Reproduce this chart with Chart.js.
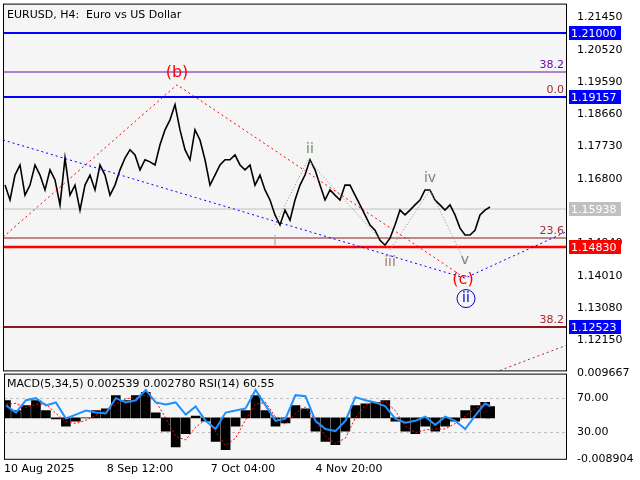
<!DOCTYPE html>
<html>
<head>
<meta charset="utf-8">
<script src="https://cdn.jsdelivr.net/npm/chart.js@4"></script>
<style>
  body { margin: 0; background: #fff; overflow: hidden; }
  #main { position: absolute; left: 0; top: -6px; }
  #sub { position: absolute; left: 0; top: 364px; }
</style>
</head>
<body>
<canvas id="main" width="640" height="386"></canvas>
<canvas id="sub" width="640" height="116"></canvas>
<script>
// time axis (bar position) and its labels
const timeTicks = [0, 103, 207, 312];
const timeLabels = ["10 Aug 2025", "8 Sep 12:00", "7 Oct 04:00", "4 Nov 20:00"];

// EURUSD H4 closes, one every 5 positions
const closes = [
  1.1662,1.1619,1.1691,1.1720,1.1633,1.1662,1.1720,1.1691,1.1648,1.1706,1.1677,1.1605,1.1740,1.1633,1.1662,1.1590,1.1662,1.1691,1.1648,1.1720,
  1.1691,1.1633,1.1662,1.1706,1.1740,1.1764,1.1749,1.1706,1.1735,1.1729,1.1720,1.1778,1.1821,1.1850,1.1894,1.1821,1.1764,1.1735,1.1821,1.1792,
  1.1735,1.1662,1.1691,1.1720,1.1735,1.1735,1.1749,1.1720,1.1706,1.1720,1.1662,1.1691,1.1648,1.1619,1.1576,1.1547,1.1590,1.1561,1.1619,1.1662,
  1.1691,1.1735,1.1706,1.1662,1.1619,1.1648,1.1633,1.1619,1.1662,1.1662,1.1633,1.1605,1.1576,1.1547,1.1532,1.1503,1.1489,1.1509,1.1547,1.1590,
  1.1576,1.1590,1.1605,1.1619,1.1648,1.1648,1.1619,1.1605,1.1590,1.1605,1.1576,1.1538,1.1518,1.1518,1.1532,1.1576,1.1590,1.1599
];
const priceTicks = [1.21450, 1.20520, 1.19590, 1.18660, 1.17730, 1.16800, 1.14940, 1.14010, 1.13080, 1.12150];

// horizontal levels
const levels = [
  { v: 1.21000, c: "#0000ff", w: 2, box: true, boxColor: "#0000ff" },
  { v: 1.19890, c: "#6a0dad", w: 1, txt: "38.2", txtColor: "#6a0dad" },
  { v: 1.19157, c: "#0000ff", w: 2, box: true, boxColor: "#0000ff", txt: "0.0", txtColor: "#a52a2a" },
  { v: 1.15938, c: "#c0c0c0", w: 1, box: true, boxColor: "#c0c0c0" },
  { v: 1.15100, c: "#8b1a1a", w: 1, txt: "23.6", txtColor: "#a52a2a" },
  { v: 1.14830, c: "#ff0000", w: 2.5, box: true, boxColor: "#ff0000" },
  { v: 1.12523, c: "#8b1a1a", w: 2, box: true, boxColor: "#0000ff", txt: "38.2", txtColor: "#a52a2a" }
];

// wave lines
const blueLineX = [0, 462, 563];
const blueLineY = [1.1792, 1.1394, 1.1527];
const redLineX = [0, 174, 462];
const redLineY = [1.1512, 1.1951, 1.1394];
const redLowX = [497, 563];
const redLowY = [1.1128, 1.1200];
const greyLineX = [272, 305, 387, 427, 462];
const greyLineY = [1.1547, 1.1735, 1.1475, 1.1648, 1.1440];

// wave labels
const waveLabels = [
  { t: "(b)", x: 174, y: 1.1985, c: "#ff0000", s: 16 },
  { t: "ii", x: 307, y: 1.1765, c: "#6b8e6b", s: 14 },
  { t: "iv", x: 427, y: 1.1680, c: "#808080", s: 14 },
  { t: "i", x: 272, y: 1.1500, c: "#8fbc8f", s: 13 },
  { t: "iii", x: 387, y: 1.1440, c: "#a08070", s: 14 },
  { t: "v", x: 462, y: 1.1445, c: "#808080", s: 14 },
  { t: "(c)", x: 460, y: 1.1390, c: "#ff0000", s: 16 },
  { t: "ii", x: 463, y: 1.1335, c: "#0000cc", s: 14, circle: true }
];

// indicator panel
const indX = [2,12,22,32,42,52,62,72,82,92,102,112,122,132,142,152,162,172,182,192,202,212,222,232,242,252,262,272,282,292,302,312,322,332,342,352,362,372,382,392,402,412,422,432,442,452,462,472,482,487];
const macdHist = [0.0038,0.0016,0.0027,0.0038,0.0016,-0.0002,-0.0018,-0.0007,0.0000,0.0016,0.0020,0.0049,0.0038,0.0049,0.0056,0.0011,-0.0029,-0.0063,-0.0034,0.0004,
  -0.0007,-0.0051,-0.0069,-0.0018,0.0016,0.0049,0.0016,-0.0018,-0.0011,0.0027,0.0020,-0.0029,-0.0051,-0.0058,-0.0029,0.0027,0.0031,0.0034,0.0038,-0.0007,
  -0.0029,-0.0034,-0.0018,-0.0029,-0.0018,-0.0007,0.0016,0.0027,0.0034,0.0025];
const macdSignal = [0.0030,0.0032,0.0022,0.0030,0.0030,0.0010,-0.0008,-0.0012,-0.0005,0.0006,0.0016,0.0030,0.0042,0.0044,0.0050,0.0036,0.0000,-0.0040,-0.0048,-0.0020,
  -0.0004,-0.0030,-0.0060,-0.0044,-0.0004,0.0030,0.0034,0.0002,-0.0014,0.0010,0.0024,-0.0006,-0.0040,-0.0056,-0.0044,0.0000,0.0028,0.0032,0.0036,0.0016,
  -0.0018,-0.0032,-0.0026,-0.0024,-0.0024,-0.0012,0.0004,0.0020,0.0030,0.0028];
const rsi = [61.5,53,67.6,70,61.5,65,46,50.6,55.5,53,52,70,65,67.6,79.7,65,62.7,65,50.6,60.3,
  43.3,33.6,53,55.5,57.9,79.7,61.5,43.3,45.8,73.6,72.4,43.3,33.6,31.2,43.3,71.2,67.6,65,60.3,45.8,
  41,43.3,48.2,38.5,48.2,43.3,33.6,49.4,64,60.3];
const subTickVals = [99, 70, 30, -1.5];
const subTickLabels = ["0.009667", "70.00", "30.00", "-0.008904"];

const FONT = "Tahoma, 'DejaVu Sans', sans-serif";
Chart.defaults.font.family = FONT;
Chart.defaults.font.size = 11;
Chart.defaults.color = "#000";
Chart.defaults.animation = false;

function pts(xs, ys) { return xs.map((x, i) => ({ x: x, y: ys[i] })); }

const plotBg = {
  id: "plotBg",
  beforeDraw(chart) {
    const a = chart.chartArea, ctx = chart.ctx;
    ctx.save();
    ctx.fillStyle = "#f5f5f5";
    ctx.fillRect(a.left, a.top, a.right - a.left, a.bottom - a.top);
    ctx.restore();
  },
  afterDraw(chart) {
    const a = chart.chartArea, ctx = chart.ctx;
    ctx.save();
    ctx.strokeStyle = "#000";
    ctx.lineWidth = 1;
    ctx.strokeRect(a.left + 0.5, a.top + 0.5, a.right - a.left, a.bottom - a.top);
    ctx.restore();
  }
};

const mainOverlay = {
  id: "mainOverlay",
  beforeDatasetsDraw(chart) {
    const a = chart.chartArea, ctx = chart.ctx, y = chart.scales.y;
    ctx.save();
    levels.forEach(l => {
      const py = Math.round(y.getPixelForValue(l.v));
      ctx.strokeStyle = l.c; ctx.lineWidth = l.w;
      ctx.beginPath(); ctx.moveTo(a.left, py); ctx.lineTo(a.right, py); ctx.stroke();
    });
    ctx.restore();
  },
  afterDraw(chart) {
    const a = chart.chartArea, ctx = chart.ctx, x = chart.scales.x, y = chart.scales.y;
    ctx.save();
    ctx.font = "11px " + FONT;
    ctx.fillText("EURUSD, H4:  Euro vs US Dollar", a.left + 4, a.top + 14);
    levels.forEach(l => {
      const py = Math.round(y.getPixelForValue(l.v));
      if (l.txt) {
        ctx.fillStyle = l.txtColor; ctx.textAlign = "right";
        ctx.fillText(l.txt, a.right - 2, py - 4);
      }
      if (l.box) {
        ctx.fillStyle = l.boxColor;
        ctx.fillRect(a.right + 3, py - 7, 52, 14);
        ctx.fillStyle = "#fff"; ctx.textAlign = "left";
        ctx.fillText(l.v.toFixed(5), a.right + 5, py + 4);
      }
    });
    waveLabels.forEach(w => {
      const px = x.getPixelForValue(w.x), py = y.getPixelForValue(w.y);
      ctx.font = w.s + "px " + FONT;
      ctx.fillStyle = w.c; ctx.textAlign = "center"; ctx.textBaseline = "middle";
      ctx.fillText(w.t, px, py);
      if (w.circle) {
        ctx.strokeStyle = w.c; ctx.lineWidth = 1;
        ctx.beginPath(); ctx.arc(px, py, 9, 0, Math.PI * 2); ctx.stroke();
      }
    });
    ctx.restore();
  }
};

new Chart(document.getElementById("main"), {
  type: "line",
  data: {
    datasets: [
      { data: pts(blueLineX, blueLineY), borderColor: "#0000ff", borderWidth: 1, borderDash: [2, 3], pointRadius: 0 },
      { data: pts(redLineX, redLineY), borderColor: "#ff0000", borderWidth: 1, borderDash: [2, 3], pointRadius: 0 },
      { data: pts(redLowX, redLowY), borderColor: "#a52a2a", borderWidth: 1, borderDash: [2, 3], pointRadius: 0 },
      { data: pts(greyLineX, greyLineY), borderColor: "#909090", borderWidth: 1, borderDash: [1, 2], pointRadius: 0 },
      { data: closes.map((c, i) => ({ x: i * 5 + 2, y: c })), borderColor: "#000", borderWidth: 1.6, pointRadius: 0, tension: 0 }
    ]
  },
  options: {
    responsive: false,
    layout: { padding: { top: 4, left: 3, bottom: 2, right: 0 } },
    plugins: { legend: { display: false }, tooltip: { enabled: false } },
    scales: {
      x: { type: "linear", min: 0, max: 563, display: false },
      y: {
        position: "right", min: 1.1128, max: 1.2185,
        grid: { display: false, drawTicks: true },
        border: { display: false },
        afterFit(s) { s.width = 74; },
        afterBuildTicks(s) { s.ticks = priceTicks.map(v => ({ value: v })); },
        ticks: { autoSkip: false, padding: 3, callback: v => v.toFixed(5) }
      }
    }
  },
  plugins: [plotBg, mainOverlay]
});

const subOverlay = {
  id: "subOverlay",
  beforeDatasetsDraw(chart) {
    const a = chart.chartArea, ctx = chart.ctx, r = chart.scales.y;
    ctx.save();
    ctx.strokeStyle = "#c0c0c0"; ctx.setLineDash([3, 3]); ctx.lineWidth = 1;
    [70, 30].forEach(v => {
      const py = Math.round(r.getPixelForValue(v)) + 0.5;
      ctx.beginPath(); ctx.moveTo(a.left, py); ctx.lineTo(a.right, py); ctx.stroke();
    });
    ctx.restore();
  },
  afterDraw(chart) {
    const a = chart.chartArea, ctx = chart.ctx;
    ctx.save();
    ctx.font = "11px " + FONT;
    ctx.fillText("MACD(5,34,5) 0.002539 0.002780 RSI(14) 60.55", a.left + 3, a.top + 13);
    ctx.restore();
  }
};

new Chart(document.getElementById("sub"), {
  data: {
    datasets: [
      { type: "line", yAxisID: "y", data: pts(indX, rsi), borderColor: "#1e90ff", borderWidth: 2, pointRadius: 0 },
      { type: "line", yAxisID: "m", data: pts(indX, macdSignal), borderColor: "#ff0000", borderWidth: 1, borderDash: [2, 2], pointRadius: 0 },
      { type: "bar", yAxisID: "m", data: pts(indX, macdHist), backgroundColor: "#000", barThickness: 9 }
    ]
  },
  options: {
    responsive: false,
    layout: { padding: { top: 4, left: 3, right: 0, bottom: 0 } },
    plugins: { legend: { display: false }, tooltip: { enabled: false } },
    scales: {
      x: {
        type: "linear", min: 0, max: 563, offset: false,
        grid: { display: false, drawTicks: false }, border: { display: false },
        afterBuildTicks(s) { s.ticks = timeTicks.map(v => ({ value: v })); },
        ticks: { autoSkip: false, maxRotation: 0, align: "start", padding: 4,
          callback: (v, i) => timeLabels[i] }
      },
      y: {
        position: "right", min: -1.5, max: 99,
        grid: { display: false }, border: { display: false },
        afterFit(s) { s.width = 74; },
        afterBuildTicks(s) { s.ticks = subTickVals.map(v => ({ value: v })); },
        ticks: { autoSkip: false, padding: 3, callback: (v, i) => subTickLabels[i] }
      },
      m: { display: false, min: -0.008904, max: 0.009667 }
    }
  },
  plugins: [plotBg, subOverlay]
});
</script>
</body>
</html>
